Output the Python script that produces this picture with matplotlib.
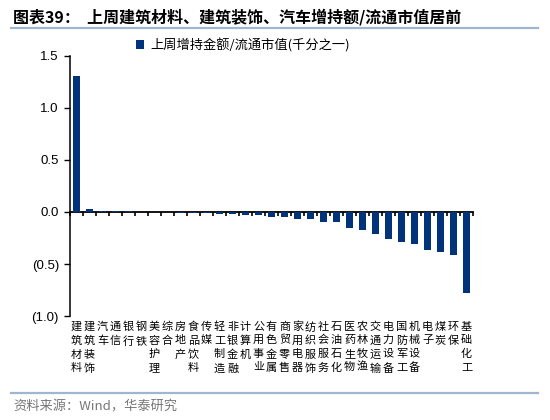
import matplotlib
matplotlib.use("Agg")
import matplotlib.pyplot as plt
import numpy as np
from matplotlib.lines import Line2D

plt.rcParams['font.family'] = ['Noto Sans CJK SC', 'DejaVu Sans']

categories = ["建筑材料", "建筑装饰", "汽车", "通信", "银行", "钢铁", "美容护理", "综合",
              "房地产", "食品饮料", "传媒", "轻工制造", "非银金融", "计算机", "公用事业",
              "有色金属", "商贸零售", "家用电器", "纺织服饰", "社会服务", "石油石化",
              "医药生物", "农林牧渔", "交通运输", "电力设备", "国防军工", "机械设备",
              "电子", "煤炭", "环保", "基础化工"]
values = [1.31, 0.03, 0.01, 0.01, 0.005, 0.0, 0.0, 0.0,
          -0.01, -0.01, -0.01, -0.015, -0.015, -0.03, -0.03,
          -0.05, -0.05, -0.064, -0.064, -0.096, -0.096,
          -0.154, -0.17, -0.215, -0.26, -0.29, -0.31,
          -0.37, -0.385, -0.41, -0.78]
series_name = "上周增持金额/流通市值(千分之一)"
yticks = [-1.0, -0.5, 0.0, 0.5, 1.0, 1.5]
ytick_labels = ["(1.0)", "(0.5)", "0.0", "0.5", "1.0", "1.5"]
title = "图表39：  上周建筑材料、建筑装饰、汽车增持额/流通市值居前"
source = "资料来源：Wind，华泰研究"

bar_color = "#00337A"
line_color = "#9FB5D0"

fig = plt.figure(figsize=(5.5, 4.2), dpi=100)
ax = fig.add_axes([70/550, 1-316/420, (473-70)/550, (316-56)/420])

x = np.arange(len(categories))
ax.bar(x, values, width=0.5, color=bar_color, label=series_name, zorder=3)

ymin, ymax = -1.0, 1.5
ax.set_ylim(ymin, ymax)
ax.set_xlim(-0.5, len(categories) - 0.5)
ax.set_yticks(yticks)
ax.set_yticklabels(ytick_labels, family='Liberation Sans', fontsize=9.5)
ax.tick_params(axis='y', direction='out', length=4, width=1, pad=4)

for s in ['top', 'right', 'bottom']:
    ax.spines[s].set_visible(False)
ax.spines['left'].set_linewidth(1.1)

# category labels at bottom (vertical stacked characters)
ax.set_xticks(x)
ax.set_xticklabels(["\n".join(c) for c in categories], fontsize=8, linespacing=1.45,
                   family=['Noto Sans CJK SC', 'DejaVu Sans'])
ax.tick_params(axis='x', length=0, pad=4)

# zero axis with boundary ticks
zero_loc = (0 - ymin) / (ymax - ymin)
sec = ax.secondary_xaxis(zero_loc)
sec.set_xticks(np.arange(len(categories) + 1) - 0.5)
sec.set_xticklabels([])
sec.tick_params(direction='out', length=3, width=1.2)
sec.spines['bottom'].set_linewidth(1.3)

fig.legend(loc='center left', bbox_to_anchor=(136/550, 1-45/420), frameon=False,
           handlelength=0.6, handleheight=0.6, handletextpad=0.5, fontsize=9.5,
           borderaxespad=0, borderpad=0)

fig.text(13/550, 1-17/420, title, fontsize=11.5, fontweight='bold', va='center', ha='left')
fig.add_artist(Line2D([11/550, 538/550], [1-28/420, 1-28/420], color=line_color, lw=1.6))
fig.add_artist(Line2D([11/550, 538/550], [1-393/420, 1-393/420], color=line_color, lw=1.6))
fig.text(13/550, 1-407/420, source, fontsize=9.5, color='#777777', va='center', ha='left')

fig.savefig("out.png", dpi=100)
